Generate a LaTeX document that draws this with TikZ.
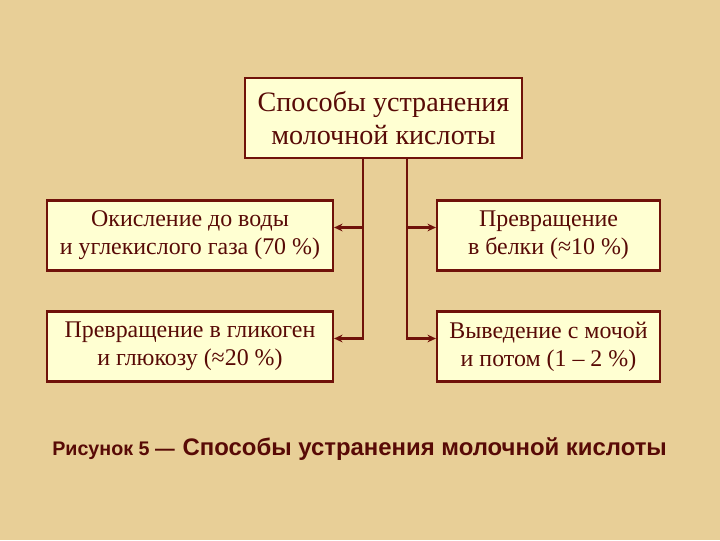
\documentclass[tikz,border=0pt]{standalone}
\usepackage{fontspec}
\setmainfont{Liberation Serif}
\setsansfont{Liberation Sans}
\usetikzlibrary{arrows.meta,positioning}
\definecolor{parchment}{RGB}{232,207,151}
\definecolor{boxcream}{RGB}{255,255,210}
\definecolor{lactred}{RGB}{112,18,10}
\definecolor{lacttext}{RGB}{88,10,6}
\begin{document}
\begin{tikzpicture}[x=0.025cm,y=-0.025cm,>={Stealth[length=6pt,width=5.5pt]},
 line cap=rect,line join=miter,
 waybox/.style={draw=lactred,line width=1.5pt,fill=boxcream,text=lacttext,
  align=center,inner sep=0pt,font=\fontsize{17}{20}\selectfont},
 link/.style={draw=lactred,line width=1.8pt}]
 \fill[parchment] (0,0) rectangle (720,540);
 \useasboundingbox (0,0) rectangle (720,540);
 \node[waybox,minimum width=6.925cm,minimum height=2cm,
  font=\fontsize{20}{23.5}\selectfont] (ways) at (383.5,118)
  {Способы устранения\\молочной кислоты};
 \node[waybox,minimum width=7.15cm,minimum height=1.75cm] (oxid) at (190,235.5)
  {Окисление до воды\\и углекислого газа (70~\%)};
 \node[waybox,minimum width=7.15cm,minimum height=1.75cm] (glyc) at (190,346.5)
  {Превращение в гликоген\\и глюкозу (≈20~\%)};
 \node[waybox,minimum width=5.575cm,minimum height=1.75cm] (prot) at (548.5,235.5)
  {Превращение\\в белки (≈10~\%)};
 \node[waybox,minimum width=5.575cm,minimum height=1.75cm] (excr) at (548.5,346.5)
  {Выведение с мочой\\и потом (1 – 2~\%)};
 \coordinate (trunkl) at (363,158); \coordinate (trunkr) at (407,158);
 \foreach \b in {oxid,glyc}{\draw[link,->] (trunkl) |- ([yshift=0.2cm]\b.east);}
 \foreach \b in {prot,excr}{\draw[link,->] (trunkr) |- ([yshift=0.2cm]\b.west);}
 \node[anchor=base west,text=lacttext,inner sep=0pt,font=\sffamily\bfseries]
  (capt) at (52,455)
  {\fontsize{14}{16}\selectfont Рисунок 5 —\hspace{0.4em}\fontsize{17}{20}\selectfont Способы устранения молочной кислоты};
\end{tikzpicture}
\end{document}
